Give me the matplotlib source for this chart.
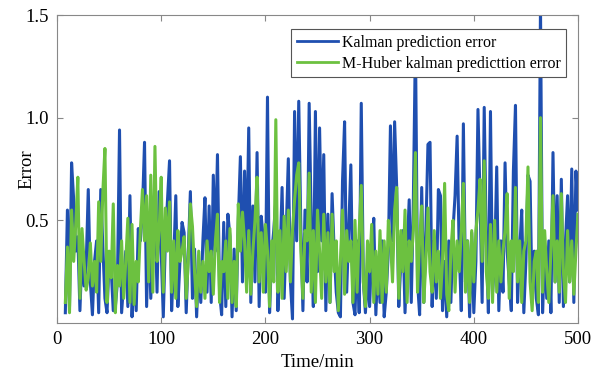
import matplotlib
matplotlib.use("Agg")
import matplotlib.pyplot as plt
import numpy as np

plt.rcParams['font.family'] = ['Liberation Serif', 'DejaVu Serif']

# time axis, one sample every 2 min
time = np.arange(8, 501, 2)

kalman = [
    0.05, 0.55, 0.08, 0.78, 0.60, 0.35,
    0.42, 0.06, 0.35, 0.18, 0.28, 0.65, 0.20, 0.04, 0.30, 0.40,
    0.05, 0.65, 0.37, 0.12, 0.05, 0.30, 0.26, 0.06, 0.08, 0.20,
    0.94, 0.05, 0.20, 0.35, 0.08, 0.62, 0.03, 0.25, 0.06, 0.46,
    0.40, 0.55, 0.88, 0.08, 0.50, 0.12, 0.40, 0.55, 0.15, 0.64,
    0.35, 0.03, 0.40, 0.59, 0.79, 0.06, 0.30, 0.62, 0.08, 0.30,
    0.49, 0.44, 0.05, 0.35, 0.64, 0.12, 0.36, 0.03, 0.29, 0.10,
    0.40, 0.61, 0.15, 0.57, 0.10, 0.72, 0.35, 0.82, 0.15, 0.04,
    0.49, 0.08, 0.53, 0.42, 0.03, 0.36, 0.06, 0.50, 0.81, 0.20,
    0.74, 0.35, 0.95, 0.10, 0.57, 0.20, 0.83, 0.08, 0.52, 0.41,
    0.15, 1.10, 0.05, 0.34, 0.45, 0.60, 0.06, 0.30, 0.66, 0.12,
    0.45, 0.80, 0.20, 0.02, 1.03, 0.40, 1.08, 0.47, 0.06, 0.55,
    0.20, 1.07, 0.50, 0.08, 1.03, 0.25, 0.95, 0.40, 0.82, 0.06,
    0.53, 0.10, 0.63, 0.35, 0.15, 0.05, 0.03, 0.69, 0.98, 0.15,
    0.46, 0.77, 0.10, 0.04, 0.40, 0.05, 1.07, 0.20, 0.05, 0.25,
    0.08, 0.35, 0.51, 0.04, 0.30, 0.10, 0.40, 0.03, 0.15, 0.35,
    0.96, 0.40, 0.98, 0.66, 0.08, 0.30, 0.45, 0.05, 0.35, 0.60,
    0.10, 0.60, 1.38, 0.20, 0.04, 0.66, 0.10, 0.45, 0.87, 0.88,
    0.08, 0.40, 0.12, 0.65, 0.62, 0.06, 0.30, 0.03, 0.40, 0.10,
    0.45, 0.62, 0.91, 0.35, 0.06, 0.97, 0.20, 0.40, 0.03, 0.44,
    0.05, 0.30, 1.04, 0.60, 0.10, 1.05, 0.40, 0.05, 1.03, 0.15,
    0.30, 0.76, 0.06, 0.40, 0.15, 0.78, 0.35, 0.20, 0.06, 0.74,
    1.06, 0.10, 0.35, 0.55, 0.05, 0.30, 0.72, 0.69, 0.10, 0.35,
    0.12, 0.04, 1.55, 0.05, 0.35, 0.12, 0.40, 0.05, 0.83, 0.20,
    0.62, 0.10, 0.70, 0.08, 0.40, 0.62, 0.20, 0.75, 0.10, 0.74,
    0.55,
]

huber = [
    0.10, 0.37, 0.05, 0.55, 0.30, 0.48,
    0.71, 0.12, 0.46, 0.30, 0.16, 0.22, 0.39, 0.18, 0.30, 0.15,
    0.59, 0.30, 0.64, 0.85, 0.10, 0.35, 0.22, 0.58, 0.05, 0.28,
    0.18, 0.40, 0.12, 0.30, 0.51, 0.10, 0.48, 0.09, 0.30, 0.20,
    0.45, 0.65, 0.40, 0.62, 0.20, 0.72, 0.15, 0.86, 0.30, 0.45,
    0.71, 0.15, 0.56, 0.35, 0.59, 0.15, 0.40, 0.12, 0.45, 0.30,
    0.35, 0.42, 0.12, 0.30, 0.58, 0.47, 0.25, 0.08, 0.35, 0.15,
    0.30, 0.12, 0.40, 0.25, 0.35, 0.14, 0.40, 0.53, 0.10, 0.30,
    0.25, 0.40, 0.12, 0.46, 0.10, 0.30, 0.08, 0.58, 0.35, 0.54,
    0.40, 0.15, 0.45, 0.14, 0.35, 0.50, 0.71, 0.20, 0.44, 0.15,
    0.48, 0.35, 0.08, 0.40, 0.20, 0.99, 0.15, 0.45, 0.12, 0.52,
    0.25, 0.55, 0.20, 0.45, 0.60, 0.72, 0.78, 0.35, 0.12, 0.45,
    0.40, 0.73, 0.15, 0.45, 0.10, 0.55, 0.35, 0.12, 0.53, 0.20,
    0.44, 0.10, 0.53, 0.25, 0.40, 0.06, 0.30, 0.55, 0.14, 0.45,
    0.30, 0.40, 0.10, 0.50, 0.15, 0.45, 0.67, 0.20, 0.08, 0.40,
    0.25, 0.48, 0.10, 0.35, 0.14, 0.45, 0.10, 0.40, 0.15, 0.50,
    0.40, 0.20, 0.55, 0.66, 0.12, 0.45, 0.25, 0.55, 0.10, 0.40,
    0.30, 0.45, 0.83, 0.15, 0.40, 0.57, 0.10, 0.30, 0.56, 0.25,
    0.15, 0.45, 0.20, 0.35, 0.12, 0.30, 0.68, 0.14, 0.06, 0.35,
    0.50, 0.15, 0.40, 0.25, 0.45, 0.68, 0.15, 0.40, 0.10, 0.45,
    0.20, 0.45, 0.55, 0.70, 0.30, 0.79, 0.25, 0.12, 0.48, 0.10,
    0.50, 0.15, 0.40, 0.20, 0.35, 0.45, 0.63, 0.12, 0.40, 0.25,
    0.66, 0.20, 0.40, 0.10, 0.35, 0.40, 0.76, 0.20, 0.06, 0.30,
    0.35, 0.10, 1.00, 0.15, 0.45, 0.25, 0.10, 0.35, 0.62, 0.20,
    0.40, 0.15, 0.63, 0.25, 0.10, 0.45, 0.20, 0.40, 0.14, 0.35,
    0.53,
]

labels = ['Kalman prediction error', 'M-Huber kalman predicttion error']
xticks = [0, 100, 200, 300, 400, 500]
yticks = [0.5, 1.0, 1.5]

fig = plt.figure(figsize=(6.08, 3.78), dpi=100)
ax = fig.add_axes([57 / 608, 55 / 378, 521 / 608, 308 / 378])

ax.plot(time, kalman, color='#1f4fb0', lw=2.2, label=labels[0])
ax.plot(time, huber, color='#6cc140', lw=2.2, label=labels[1])

ax.set_xlim(0, 500)
ax.set_ylim(0, 1.5)
ax.set_xticks(xticks)
ax.set_yticks(yticks)
ax.set_yticklabels(['0.5', '1.0', '1.5'])
ax.tick_params(direction='in', top=True, right=True, length=4,
               labelsize=13.5, color='#888888', pad=6)
for s in ax.spines.values():
    s.set_color('#888888')
    s.set_linewidth(0.8)

ax.set_xlabel('Time/min', fontsize=13.5, labelpad=4)
ax.set_ylabel('Error', fontsize=13.5)
ax.yaxis.set_label_coords(-0.042, 0.5)

leg = ax.legend(loc='upper right', bbox_to_anchor=(0.977, 0.953), fontsize=11.5,
                frameon=True, fancybox=False, framealpha=1, edgecolor='#555555',
                handlelength=2.6, handletextpad=0.2, borderpad=0.35,
                labelspacing=0.3, borderaxespad=0)
leg.get_frame().set_linewidth(0.8)
for line in leg.get_lines():
    line.set_linewidth(2.0)

fig.savefig('out.png', dpi=100)
